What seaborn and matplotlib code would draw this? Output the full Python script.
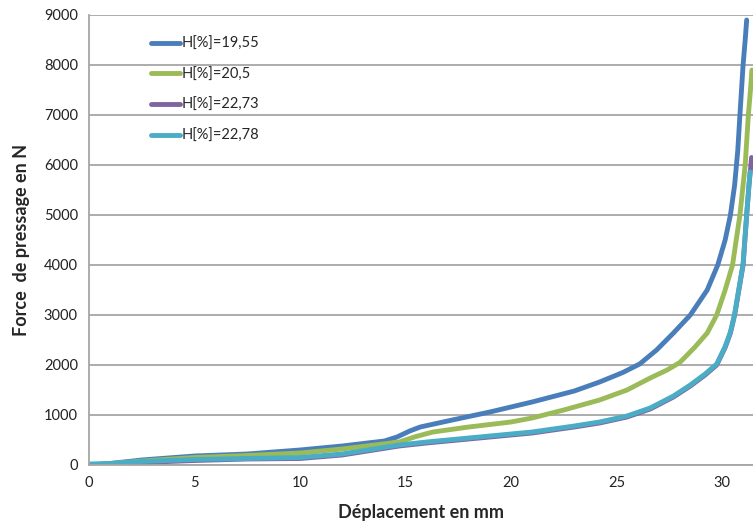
import matplotlib
matplotlib.use("Agg")
import matplotlib.pyplot as plt
import seaborn as sns
import pandas as pd

series_names = ["H[%]=19,55", "H[%]=20,5", "H[%]=22,73", "H[%]=22,78"]
colors = ["#4A7EBB", "#9BBB59", "#8064A2", "#4BACC6"]

x_blue = [0, 1, 2.5, 5, 7.5, 10, 12, 14, 14.6, 15.2, 15.7, 17, 19, 21, 23, 24.2, 25.3, 26.1, 26.9, 27.7, 28.5, 29.3, 29.8, 30.15, 30.4, 30.6, 30.75, 30.85, 31.0, 31.1, 31.17]
y_blue = [0, 30, 100, 180, 220, 300, 380, 480, 560, 680, 760, 880, 1060, 1260, 1480, 1660, 1850, 2020, 2300, 2640, 3000, 3500, 4000, 4500, 5000, 5600, 6300, 7000, 8000, 8500, 8900]

x_green = [0, 1, 2.5, 5, 7.5, 10, 12, 14.7, 15.5, 16.3, 18, 20, 21, 22.5, 24.2, 25.5, 26.6, 27.4, 28.0, 28.7, 29.3, 29.75, 30.15, 30.5, 30.85, 31.1, 31.25, 31.35, 31.42]
y_green = [0, 25, 80, 150, 190, 240, 320, 460, 570, 660, 760, 860, 940, 1100, 1300, 1500, 1740, 1900, 2050, 2350, 2640, 3000, 3500, 4000, 5000, 6000, 7000, 7500, 7900]

x_purple = [0, 1, 2.5, 5, 7.5, 10, 12, 14.7, 16, 18, 21, 23, 24.2, 25.5, 26.6, 27.7, 28.5, 29.2, 29.75, 30.15, 30.4, 30.6, 30.8, 31.0, 31.17, 31.28, 31.35, 31.4]
y_purple = [0, 10, 50, 90, 120, 130, 200, 380, 440, 520, 640, 760, 840, 960, 1120, 1360, 1580, 1800, 2000, 2350, 2640, 3000, 3500, 4000, 5000, 5600, 5900, 6150]

x_cyan = [0, 1, 2.5, 5, 7.5, 10, 12, 14.7, 16, 18, 21, 23, 24.2, 25.5, 26.6, 27.7, 28.5, 29.2, 29.75, 30.15, 30.4, 30.6, 30.8, 31.0, 31.17, 31.28, 31.33]
y_cyan = [20, 30, 70, 110, 130, 150, 220, 400, 460, 540, 660, 780, 860, 980, 1140, 1380, 1600, 1820, 2020, 2370, 2660, 3020, 3520, 4020, 5000, 5600, 5860]

xs = [x_blue, x_green, x_purple, x_cyan]
ys = [y_blue, y_green, y_purple, y_cyan]

rows = []
for name, xv, yv in zip(series_names, xs, ys):
    for a, b in zip(xv, yv):
        rows.append({"serie": name, "x": a, "y": b})
df = pd.DataFrame(rows)

sns.set_style("white")
plt.rcParams["font.family"] = ["Lato", "DejaVu Sans"]

fig = plt.figure(figsize=(7.53, 5.27), dpi=100)
ax = fig.add_axes([89 / 753, 62 / 527, 664 / 753, 450 / 527])

sns.lineplot(data=df, x="x", y="y", hue="serie", hue_order=series_names,
             palette=colors, sort=False, estimator=None, units="serie",
             linewidth=3.5, ax=ax, legend=True)

ax.set_xlim(0, 31.47)
ax.set_ylim(0, 9000)
ax.set_yticks(range(0, 9001, 1000))
ax.set_xticks(range(0, 31, 5))
ax.yaxis.grid(True, color="#A6A6A6", linewidth=1.3)
ax.xaxis.grid(False)
ax.set_axisbelow(True)
for s in ["top", "right"]:
    ax.spines[s].set_visible(False)
for s in ["left", "bottom"]:
    ax.spines[s].set_color("#A6A6A6")
    ax.spines[s].set_linewidth(1.3)
ax.tick_params(axis="both", labelsize=10.5, colors="#222222", length=0, pad=8)

ax.set_xlabel("Déplacement en mm", fontsize=13, fontweight="bold", labelpad=10)
ax.set_ylabel("Force  de pressage en N", fontsize=13, fontweight="bold", labelpad=10)

leg = ax.legend(loc="upper left", bbox_to_anchor=(0.085, 0.965), frameon=False,
                fontsize=10.5, handlelength=2.0, handletextpad=0.1,
                labelspacing=1.15, borderaxespad=0)
for line in leg.get_lines():
    line.set_linewidth(3.5)

fig.savefig("out.png", dpi=100)
